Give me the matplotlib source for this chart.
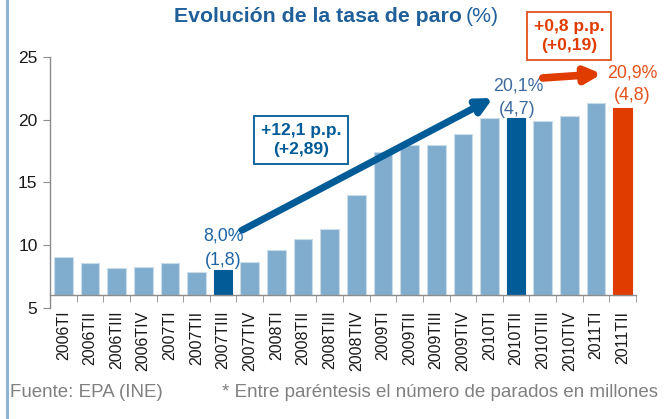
import matplotlib
matplotlib.use("Agg")
import matplotlib.pyplot as plt
from matplotlib.lines import Line2D
import numpy as np

plt.rcParams['font.family'] = ['Liberation Sans', 'DejaVu Sans']

quarters = ["2006TI", "2006TII", "2006TIII", "2006TIV",
            "2007TI", "2007TII", "2007TIII", "2007TIV",
            "2008TI", "2008TII", "2008TIII", "2008TIV",
            "2009TI", "2009TII", "2009TIII", "2009TIV",
            "2010TI", "2010TII", "2010TIII", "2010TIV",
            "2011TI", "2011TII"]
rate = [9.1, 8.6, 8.2, 8.3, 8.6, 7.9, 8.0, 8.7,
        9.6, 10.5, 11.3, 14.0, 17.4, 18.0, 18.0, 18.9,
        20.1, 20.1, 19.9, 20.3, 21.3, 20.9]
yticks = [5, 10, 15, 20, 25]
base = 6.0

LIGHT = '#80ADCD'
DARK = '#005B97'
ORANGE = '#E03C00'
BLUE_TXT = '#1F64A3'
SLATE = '#3E6B9E'
ORANGE_TXT = '#E2501C'

colors = [LIGHT] * len(rate)
colors[6] = DARK
colors[17] = DARK
colors[21] = ORANGE

W, H = 671, 419
fig = plt.figure(figsize=(W / 100, H / 100), dpi=100)
ax = fig.add_axes([50 / W, 1 - 308 / H, 586 / W, 251 / H])

x = np.arange(len(rate))
vals = np.array(rate)
ax.bar(x, vals - base, bottom=base, width=0.7, color=colors,
       edgecolor=['#C9DCEA' if c == LIGHT else c for c in colors], linewidth=0.8, zorder=2)

ax.set_xlim(-0.5, len(rate) - 0.5)
ax.set_ylim(5, 25)
ax.spines['top'].set_visible(False)
ax.spines['right'].set_visible(False)
ax.spines['bottom'].set_position(('data', base))
ax.spines['left'].set_bounds(5, 25)
for s in ('left', 'bottom'):
    ax.spines[s].set_color('#8C8C8C')
    ax.spines[s].set_linewidth(1.0)
ax.spines['bottom'].set_zorder(3)

ax.set_yticks(yticks)
ax.set_yticklabels([str(v) for v in yticks])
ax.tick_params(axis='y', direction='out', length=5, color='#8C8C8C',
               labelsize=12.5, labelcolor='#1a1a1a', pad=4)

ax.set_xticks(x)
ax.set_xticklabels(quarters, rotation=90, fontsize=11.5, color='#1a1a1a')
ax.tick_params(axis='x', which='major', length=0, pad=11)
ax.set_xticks(np.arange(-0.5, len(rate)), minor=True)
ax.tick_params(axis='x', which='minor', direction='out', length=5, color='#8C8C8C')

# annotations
ax.text(6, 10.7, "8,0%", ha='center', va='center', fontsize=12.8, color=BLUE_TXT)
ax.text(6, 8.82, "(1,8)", ha='center', va='center', fontsize=12.8, color=BLUE_TXT)
ax.text(17.07, 22.69, "20,1%", ha='center', va='center', fontsize=12.8, color=SLATE,
        clip_on=False)
ax.text(17.03, 20.78, "(4,7)", ha='center', va='center', fontsize=12.8, color=SLATE,
        clip_on=False)
ax.text(21.35, 23.73, "20,9%", ha='center', va='center', fontsize=12.8, color=ORANGE_TXT,
        clip_on=False)
ax.text(21.35, 21.9, "(4,8)", ha='center', va='center', fontsize=12.8, color=ORANGE_TXT,
        clip_on=False)

ax.annotate("", xy=(16.13, 21.73), xytext=(6.71, 11.2),
            arrowprops=dict(arrowstyle='-|>,head_length=0.9,head_width=0.45',
                            lw=5, color=DARK, shrinkA=0, shrinkB=0), zorder=4)
ax.annotate("", xy=(20.22, 23.65), xytext=(18.0, 23.33), annotation_clip=False,
            arrowprops=dict(arrowstyle='-|>,head_length=0.9,head_width=0.45',
                            lw=5.5, color=ORANGE, shrinkA=0, shrinkB=0), zorder=4)

ax.text(8.92, 18.39, "+12,1 p.p.\n(+2,89)", ha='center', va='center', fontsize=12.6,
        fontweight='bold', color=DARK, linespacing=1.4, zorder=5,
        bbox=dict(boxstyle='square,pad=0.4', facecolor='white', edgecolor=DARK, lw=1.3))
ax.text(18.98, 26.67, "+0,8 p.p.\n(+0,19)", ha='center', va='center', fontsize=12.6,
        fontweight='bold', color=ORANGE, linespacing=1.4, zorder=5, clip_on=False,
        bbox=dict(boxstyle='square,pad=0.4', facecolor='white', edgecolor='#E2501C', lw=1.3))

# title
fig.text(462 / W, 1 - 17 / H, "Evolución de la tasa de paro", ha='right', va='center',
         fontsize=15.3, fontweight='bold', color='#1F5F9A')
fig.text(466 / W, 1 - 17 / H, "(%)", ha='left', va='center',
         fontsize=15.3, color='#1F5F9A')

# footer
fig.text(10 / W, 1 - 392 / H, "Fuente: EPA (INE)", ha='left', va='center',
         fontsize=13.5, color='#808080')
fig.text(222 / W, 1 - 392 / H, "* Entre paréntesis el número de parados en millones",
         ha='left', va='center', fontsize=13.5, color='#808080')

fig.add_artist(Line2D([7 / W, 7 / W], [0, 1], color='#8DB6D6', lw=2.2))

fig.savefig("out.png", dpi=100)
